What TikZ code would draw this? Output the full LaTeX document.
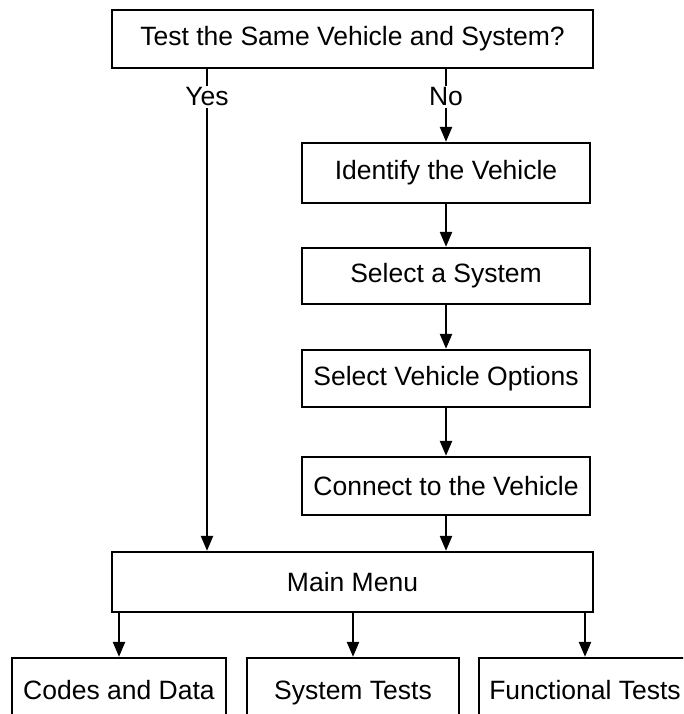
\documentclass[tikz,border=0pt]{standalone}
\usepackage{fontspec}
\setmainfont{Liberation Sans}
\usetikzlibrary{arrows.meta}
\begin{document}
\begin{tikzpicture}[x=1pt, y=-1pt,
    box/.style={draw, line width=2.3pt, inner sep=0pt, font=\fontsize{26.5}{31}\selectfont},
    lbl/.style={inner sep=1.5pt, font=\fontsize{26.5}{31}\selectfont},
    ln/.style={line width=2.3pt},
    arr/.style={line width=2.3pt, -{Triangle[length=15pt,width=12pt]}}]
    \useasboundingbox (0,0) rectangle (683,714);
    \clip (0,0) rectangle (683,714);
    % Question at the top
    \node[box, minimum width=481pt, minimum height=58pt] (q) at (352.5,39) {Test the Same Vehicle and System?};
    % Answers
    \node[lbl] (yes) at (207,97) {Yes};
    \node[lbl] (no) at (446,97) {No};
    % Set-up steps
    \node[box, minimum width=288pt, minimum height=60pt] (ident) at (446,173) {Identify the Vehicle};
    \node[box, minimum width=288pt, minimum height=56pt] (system) at (446,276) {Select a System};
    \node[box, minimum width=288pt, minimum height=57pt] (options) at (446,378.5) {Select Vehicle Options};
    \node[box, minimum width=288pt, minimum height=58pt] (connect) at (446,486) {Connect to the Vehicle};
    % Main menu
    \node[box, minimum width=481pt, minimum height=60pt] (menu) at (352.5,582) {Main Menu};
    % Menu entries (cut off by the bottom edge)
    \node[box, minimum width=214pt, minimum height=64pt, text depth=0pt] (codes) at (119,690) {Codes and Data};
    \node[box, minimum width=212pt, minimum height=64pt, text depth=0pt] (tests) at (353,690) {System Tests};
    \node[box, minimum width=212pt, minimum height=64pt, text depth=0pt] (func) at (585,690) {Functional Tests};

    % Yes branch
    \draw[ln] (q.south -| yes) -- (yes.north);
    \draw[arr] (yes.south) -- (menu.north -| yes);
    % No branch
    \draw[ln] (q.south -| no) -- (no.north);
    \draw[arr] (no.south) -- (ident.north);
    \draw[arr] (ident) -- (system);
    \draw[arr] (system) -- (options);
    \draw[arr] (options) -- (connect);
    \draw[arr] (connect.south) -- (menu.north -| connect);
    % Menu entries
    \draw[arr] (menu.south -| codes) -- (codes.north);
    \draw[arr] (menu.south -| tests) -- (tests.north);
    \draw[arr] (menu.south -| func) -- (func.north);
\end{tikzpicture}
\end{document}
